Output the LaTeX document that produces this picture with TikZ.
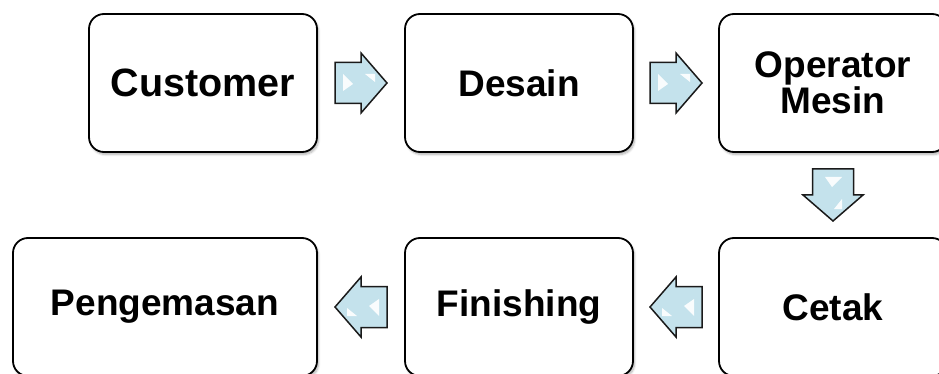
\documentclass[tikz,border=0pt]{standalone}
\usepackage{fontspec}
\setmainfont{Liberation Sans}
\usetikzlibrary{shadows.blur,calc}
\definecolor{arrowfill}{HTML}{C4E2EC}
\definecolor{arrowedge}{HTML}{1A1A1A}
\tikzset{
  stepbox/.style={draw=black, line width=1.8pt, rounded corners=15pt, fill=white,
    minimum width=228pt, minimum height=138pt, inner sep=0pt, align=center,
    font=\fontsize{37}{32}\selectfont\bfseries,
    blur shadow={shadow blur steps=6, shadow xshift=1.5pt, shadow yshift=-2.5pt, shadow opacity=30}},
  blockarrow/.style={fill=arrowfill, draw=arrowedge, line width=1.5pt, line join=miter},
  gloss/.style={fill=white, draw=none, opacity=0.9}
}
\newcommand{\blockarr}[2]{%
  \begin{scope}[shift={(#2)}, rotate=#1]
    \path[blockarrow] (-26,-20.5) -- (0,-20.5) -- (0,-30) -- (26,0) -- (0,30) -- (0,20.5) -- (-26,20.5) -- cycle;
    \path[gloss] (-18,-9) -- (-8,1) -- (-18,8) -- cycle;
    \path[gloss] (14,-1) -- (14,-9) -- (4,-9) -- cycle;
  \end{scope}}
\begin{document}
\begin{tikzpicture}[x=1pt,y=-1pt]
  \useasboundingbox (0,0) rectangle (939,374);
  \node[stepbox, font=\fontsize{39.5}{32}\selectfont\bfseries] (cust) at (203,83) {Customer};
  \node[stepbox] (des) at (519,83) {Desain};
  \node[stepbox] (op) at (833,83) {Operator\\Mesin};
  \node[stepbox, minimum width=304pt] (peng) at (165,307) {Pengemasan};
  \node[stepbox] (fin) at (519,307) {Finishing};
  \node[stepbox] (cet) at (833,307) {Cetak};
  \coordinate (a1) at ($(cust.east)!0.5!(des.west)$);
  \coordinate (a2) at ($(des.east)!0.5!(op.west)$);
  \coordinate (a3) at ($(op.south)!0.5!(cet.north)$);
  \coordinate (a4) at ($(cet.west)!0.5!(fin.east)$);
  \coordinate (a5) at ($(fin.west)!0.5!(peng.east)$);
  \blockarr{0}{a1}
  \blockarr{0}{a2}
  \blockarr{-90}{a3}
  \blockarr{180}{a4}
  \blockarr{180}{a5}
\end{tikzpicture}
\end{document}
